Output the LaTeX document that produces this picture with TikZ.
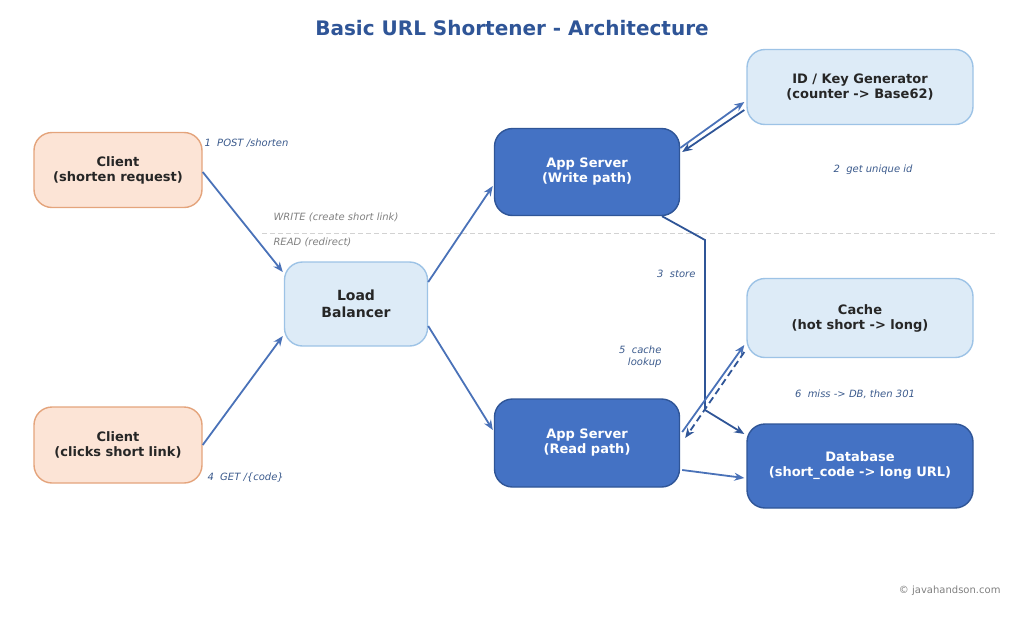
\documentclass[tikz,border=0pt]{standalone}
\usepackage{fontspec}
\setmainfont{DejaVu Sans}
\usetikzlibrary{arrows.meta}
\definecolor{lf}{HTML}{DDEBF7}\definecolor{lb}{HTML}{9DC3E6}
\definecolor{of}{HTML}{FCE4D6}\definecolor{ob}{HTML}{E4A47C}
\definecolor{df}{HTML}{4472C4}\definecolor{db}{HTML}{2F5597}
\definecolor{ar}{HTML}{4A72B8}\definecolor{lab}{HTML}{3B5A8C}
\begin{document}
\begin{tikzpicture}[x=1pt,y=-1pt,
 box/.style={rounded corners=18pt,line width=1.4pt,align=center,font=\bfseries\fontsize{13}{15}\selectfont,inner sep=0,text=black!85},
 light/.style={box,fill=lf,draw=lb},
 orange/.style={box,fill=of,draw=ob},
 dark/.style={box,fill=df,draw=db,text=white},
 arr/.style={draw=ar,line width=1.8pt,-{Stealth[length=10pt,width=8pt]}},
 lbl/.style={font=\itshape\fontsize{10}{12}\selectfont,text=lab},
 glbl/.style={font=\itshape\fontsize{10}{12}\selectfont,text=gray}]
\useasboundingbox (0,0) rectangle (1024,616);
\node[font=\bfseries\fontsize{20}{24}\selectfont,text=db] (title) at (512,28) {Basic URL Shortener - Architecture};
\node[orange,minimum width=168pt,minimum height=75pt] (c1) at (118,170) {Client\\(shorten request)};
\node[orange,minimum width=168pt,minimum height=76pt] (c2) at (118,445) {Client\\(clicks short link)};
\node[light,minimum width=143pt,minimum height=84pt,font=\bfseries\fontsize{14}{17}\selectfont] (lbal) at (356,304) {Load\\Balancer};
\node[dark,minimum width=185pt,minimum height=87pt] (aw) at (587,172) {App Server\\(Write path)};
\node[dark,minimum width=185pt,minimum height=88pt] (arr) at (587,443) {App Server\\(Read path)};
\node[light,minimum width=226pt,minimum height=75pt] (id) at (860,87) {ID / Key Generator\\(counter -> Base62)};
\node[light,minimum width=226pt,minimum height=79pt] (ca) at (860,318) {Cache\\(hot short -> long)};
\node[dark,minimum width=226pt,minimum height=84pt] (dbn) at (860,466) {Database\\(short\_code -> long URL)};
\draw[gray!35,dash pattern=on 5pt off 3pt,line width=0.8pt] (262,233) -- (998,233);
\draw[arr] ([yshift=-2pt]c1.east) -- ([xshift=-1pt,yshift=32pt]lbal.west);
\draw[arr] (c2.east) -- ([xshift=-1pt,yshift=-32pt]lbal.west);
\draw[arr] ([yshift=22pt]lbal.east) -- ([xshift=-1pt,yshift=-14pt]aw.west);
\draw[arr] ([yshift=-22pt]lbal.east) -- ([xshift=-1pt,yshift=13pt]arr.west);
\draw[arr] ([yshift=24pt]aw.east) -- ([xshift=-2pt,yshift=-15pt]id.west);
\draw[arr,draw=db] ([xshift=-2pt,yshift=-23pt]id.west) -- ([xshift=2pt,yshift=20pt]aw.east);
\coordinate (s1) at (705,240); \coordinate (s2) at (705,410);
\draw[draw=db,line width=1.8pt,-{Stealth[length=10pt,width=8pt]}] ([xshift=75pt]aw.south) -- (s1) -- (s2) -- ([xshift=-2pt,yshift=32pt]dbn.west);
\draw[arr] ([xshift=2pt,yshift=11pt]arr.east) -- ([xshift=-2pt,yshift=-27pt]ca.west);
\draw[arr,draw=db,dash pattern=on 7pt off 4pt] ([xshift=-2pt,yshift=-34pt]ca.west) -- ([xshift=5pt,yshift=5pt]arr.east);
\draw[arr] ([xshift=2pt,yshift=-27pt]arr.east) -- ([xshift=-2pt,yshift=-12pt]dbn.west);
\node[lbl,anchor=west] (l1) at (201,143) {1\ \ POST /shorten};
\node[glbl,anchor=west] (lw) at (270,217) {WRITE (create short link)};
\node[glbl,anchor=west] (lr) at (270,242) {READ (redirect)};
\node[lbl] (l2) at (873,170) {2\ \ get unique id};
\node[lbl,anchor=east] (l3) at (699,274) {3\ \ store};
\node[lbl,anchor=east,align=right] (l5) at (665,357) {5\ \ cache\\lookup};
\node[lbl] (l6) at (855,394) {6\ \ miss -> DB, then 301};
\node[lbl,anchor=west] (l4) at (204,478) {4\ \ GET /\{code\}};
\node[glbl,font=\fontsize{10}{12}\selectfont,anchor=east] (cp) at (1004,591) {© javahandson.com};
\end{tikzpicture}
\end{document}
